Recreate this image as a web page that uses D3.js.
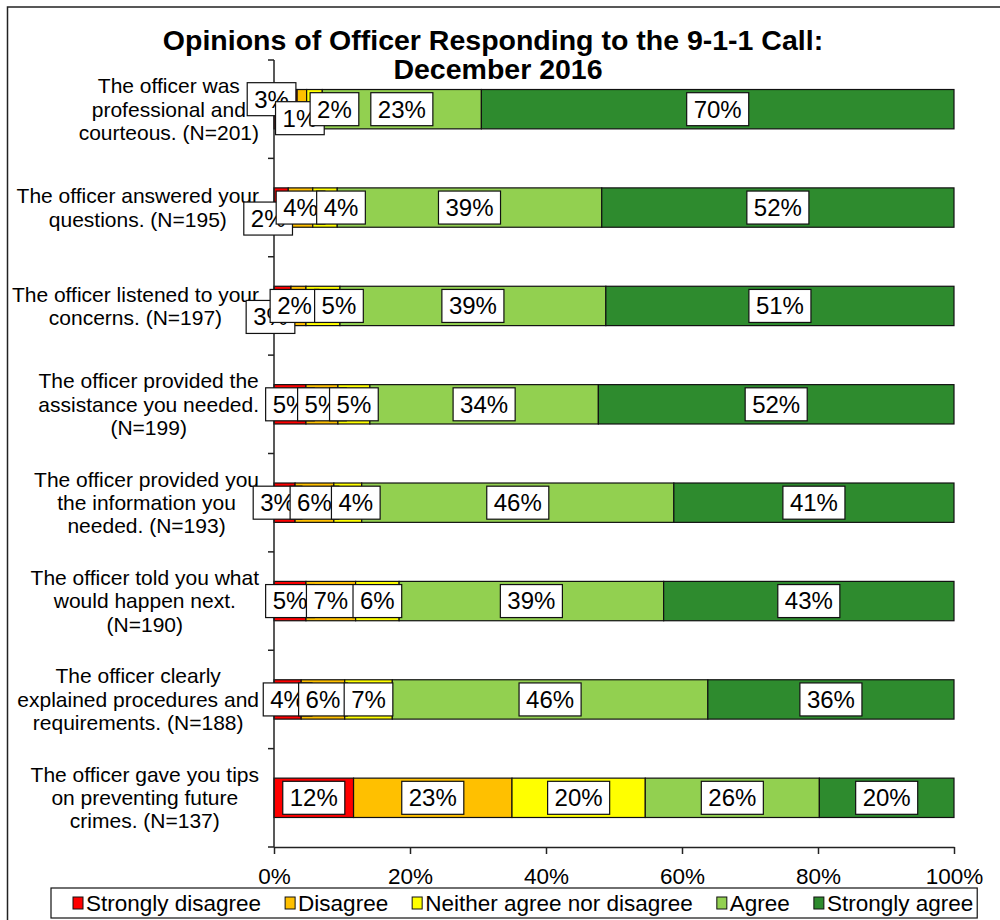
<!DOCTYPE html>
<html>
<head>
<meta charset="utf-8">
<script src="https://d3js.org/d3.v7.min.js"></script>
<style>
  body { margin: 0; background: #fff; }
  svg text { font-family: "Liberation Sans", Arial, sans-serif; fill: #000; }
</style>
</head>
<body>
<div id="chart"></div>
<script>
// category labels (one entry per line of the wrapped label)
const categories = [
  ["The officer was", "professional and", "courteous. (N=201)"],
  ["The officer answered your", "questions. (N=195)"],
  ["The officer listened to your", "concerns. (N=197)"],
  ["The officer provided the", "assistance you needed.", "(N=199)"],
  ["The officer provided you", "the information you", "needed. (N=193)"],
  ["The officer told you what", "would happen next.", "(N=190)"],
  ["The officer clearly", "explained procedures and", "requirements. (N=188)"],
  ["The officer gave you tips", "on preventing future", "crimes. (N=137)"]
];
const seriesNames = ["Strongly disagree", "Disagree", "Neither agree nor disagree", "Agree", "Strongly agree"];

// percentages per row
const stronglyDisagree = [3.4, 2.1, 2.5, 4.7, 3.1, 4.7, 4.0, 11.7];
const disagree         = [1.4, 3.6, 2.2, 4.7, 5.7, 7.3, 6.4, 23.3];
const neither          = [2.3, 3.6, 5.0, 4.7, 4.1, 6.4, 7.0, 19.6];
const agree            = [23.4, 38.9, 39.1, 33.6, 45.9, 38.9, 46.4, 25.6];
const stronglyAgree    = [69.5, 51.8, 51.2, 52.3, 41.2, 42.7, 36.2, 19.8];

const xTicks = [0, 20, 40, 60, 80, 100];
const colors = ["#FF0000", "#FFC000", "#FFFF00", "#92D050", "#2E8B2E"];

// Excel pushed some crowded labels aside: [row, series, dx, dy]
const labelShift = [
  [0, 0, -14, -10], [0, 1, -2, 9], [0, 2, 20, 0],
  [1, 0, -13, 11], [1, 2, 16, 0],
  [2, 0, -12, 11], [2, 1, -4, 0], [2, 2, 16, 0],
  [4, 0, -7, 0], [4, 2, 8, 0]
];

const series = [stronglyDisagree, disagree, neither, agree, stronglyAgree];

const W = 1000, H = 920;
const svg = d3.select('#chart').append('svg')
  .attr('width', W).attr('height', H);

// outer chart frame (only top and left edges inside the picture)
svg.append('rect')
  .attr('x', 7.5).attr('y', 7)
  .attr('width', 1100).attr('height', 1100)
  .attr('fill', 'none').attr('stroke', '#222').attr('stroke-width', 1.5);

// title
const title = svg.append('text')
  .attr('x', 493).attr('y', 50)
  .attr('text-anchor', 'middle')
  .style('font-size', '28.5px').style('font-weight', 'bold');
title.append('tspan').attr('x', 493).text('Opinions of Officer Responding to the 9-1-1 Call:');
title.append('tspan').attr('x', 498).attr('dy', 29).text('December 2016');

const x = d3.scaleLinear().domain([0, 100]).range([274, 954]);
const y = d3.scaleBand()
  .domain(d3.range(categories.length))
  .range([60, 847])
  .paddingInner(0.6)
  .paddingOuter(0.3);

// build stacked rows
const rows = categories.map((c, i) => {
  let acc = 0;
  return series.map((s, k) => {
    const seg = { row: i, k: k, x0: acc, x1: acc + s[i], v: s[i] };
    acc += s[i];
    return seg;
  });
});
const segs = rows.flat();

svg.append('g').selectAll('rect')
  .data(segs)
  .enter().append('rect')
  .attr('x', d => x(d.x0))
  .attr('y', d => y(d.row))
  .attr('width', d => x(d.x1) - x(d.x0))
  .attr('height', y.bandwidth())
  .attr('fill', d => colors[d.k])
  .attr('stroke', '#111')
  .attr('stroke-width', 1.2);

// axes
const axisG = svg.append('g');
axisG.append('line')
  .attr('x1', x(0)).attr('x2', x(0))
  .attr('y1', 60).attr('y2', 847)
  .attr('stroke', '#222').attr('stroke-width', 1.5);
axisG.selectAll('.ytick')
  .data(d3.range(categories.length + 1))
  .enter().append('line')
  .attr('class', 'ytick')
  .attr('x1', x(0) - 6).attr('x2', x(0))
  .attr('y1', i => 60 + i * y.step())
  .attr('y2', i => 60 + i * y.step())
  .attr('stroke', '#222').attr('stroke-width', 1.5);

const xAxis = svg.append('g')
  .attr('transform', 'translate(0,847)')
  .call(d3.axisBottom(x).tickValues(xTicks).tickFormat(d => d + '%')
    .tickSize(7).tickSizeOuter(0).tickPadding(14));
xAxis.select('.domain').attr('stroke', '#222').attr('stroke-width', 1.5);
xAxis.selectAll('line').attr('stroke', '#222').attr('stroke-width', 1.5);
xAxis.selectAll('text').style('font-size', '22.5px')
  .style('font-family', '"Liberation Sans", Arial, sans-serif');

// category labels: block right aligned, lines centred inside it
const catG = svg.append('g');
categories.forEach((lines, i) => {
  const cy = y(i) + y.bandwidth() / 2;
  const t = catG.append('text')
    .attr('text-anchor', 'middle')
    .style('font-size', '21px');
  const spans = lines.map((ln, j) => t.append('tspan')
    .attr('y', cy + (j - (lines.length - 1) / 2) * 23.3)
    .attr('dy', '0.35em')
    .text(ln));
  const maxW = d3.max(spans, s => s.node().getComputedTextLength());
  spans.forEach(s => s.attr('x', 259 - maxW / 2));
});

// data labels in white boxes
const shiftOf = (r, k) => {
  const f = labelShift.find(s => s[0] === r && s[1] === k);
  return f ? [f[2], f[3]] : [0, 0];
};
const lblG = svg.append('g');
segs.forEach(d => {
  const sh = shiftOf(d.row, d.k);
  const cx = x((d.x0 + d.x1) / 2) + sh[0];
  const cy = y(d.row) + y.bandwidth() / 2 + sh[1];
  const g = lblG.append('g');
  const rect = g.append('rect')
    .attr('fill', '#fff').attr('stroke', '#111').attr('stroke-width', 1.2);
  const t = g.append('text')
    .attr('x', cx).attr('y', cy).attr('dy', '0.35em')
    .attr('text-anchor', 'middle')
    .style('font-size', '24px')
    .text(Math.round(d.v) + '%');
  const tw = t.node().getComputedTextLength();
  rect.attr('x', cx - tw / 2 - 7).attr('y', cy - 16.5)
    .attr('width', tw + 14).attr('height', 33);
});

// legend
const legG = svg.append('g');
const legBox = legG.append('rect')
  .attr('fill', '#fff').attr('stroke', '#111').attr('stroke-width', 1.2);
let lx = 73;
const legY = 903;
seriesNames.forEach((name, k) => {
  legG.append('rect')
    .attr('x', lx).attr('y', legY - 6)
    .attr('width', 10).attr('height', 12)
    .attr('fill', colors[k]).attr('stroke', '#111').attr('stroke-width', 1);
  const t = legG.append('text')
    .attr('x', lx + 13).attr('y', legY).attr('dy', '0.35em')
    .style('font-size', '22.5px')
    .text(name);
  lx += 13 + t.node().getComputedTextLength() + 24;
});
legBox.attr('x', 51).attr('y', 888).attr('width', lx - 24 + 4 - 51).attr('height', 30);
</script>
</body>
</html>
